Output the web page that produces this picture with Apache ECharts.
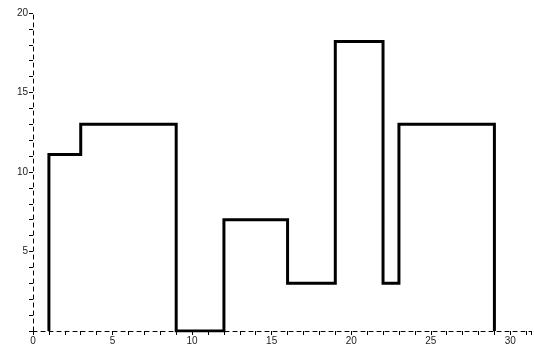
<!DOCTYPE html>
<html><head><meta charset="utf-8">
<script src="https://cdn.jsdelivr.net/npm/echarts@6/dist/echarts.min.js"></script>
<style>html,body{margin:0;padding:0;background:#fff}#c{width:534px;height:350px}</style>
</head><body><div id="c"></div>
<script>
// Bin edges (x where the level changes) and the level between consecutive edges
var binEdges = [1, 3, 9, 12, 16, 19, 22, 23, 29];
var heights = [11.1, 13, 0, 7, 3, 18.2, 3, 13];
var xTickLabels = [0, 5, 10, 15, 20, 25, 30];
var yTickLabels = [5, 10, 15, 20];

var pts = [[binEdges[0], 0]];
for (var i = 0; i < heights.length; i++) pts.push([binEdges[i], heights[i]]);
pts.push([binEdges[binEdges.length - 1], 0]);

var chart = echarts.init(document.getElementById('c'), null, {renderer: 'canvas'});
var axisCommon = {
  axisLine: {show: true, onZero: false, lineStyle: {color: '#000', width: 1, type: [4, 4]}},
  axisTick: {show: true, length: 4, inside: false, lineStyle: {color: '#000', width: 1}},
  minorTick: {show: true, splitNumber: 5, length: 4, lineStyle: {color: '#000', width: 1}},
  splitLine: {show: false},
  axisLabel: {color: '#222', fontSize: 10, fontFamily: 'Liberation Sans, Arial, sans-serif', showMaxLabel: false, showMinLabel: true}
};
chart.setOption({
  animation: false,
  grid: {left: 33, right: 3, top: 13, bottom: 19, containLabel: false},
  xAxis: Object.assign({}, axisCommon, {
    type: 'value', min: 0, max: 31.3, interval: 5,
    axisLabel: Object.assign({}, axisCommon.axisLabel, {margin: 5,
      formatter: function (v) { return xTickLabels.indexOf(v) >= 0 ? String(v) : ''; }})
  }),
  yAxis: Object.assign({}, axisCommon, {
    type: 'value', min: 0, max: 20, interval: 5,
    axisLabel: Object.assign({}, axisCommon.axisLabel, {margin: 5, showMaxLabel: true, showMinLabel: false,
      formatter: function (v) { return yTickLabels.indexOf(v) >= 0 ? String(v) : ''; }})
  }),
  series: [{
    type: 'line', step: 'end', data: pts, symbol: 'none',
    lineStyle: {color: '#000', width: 3, join: 'miter'}
  }]
});
</script></body></html>
